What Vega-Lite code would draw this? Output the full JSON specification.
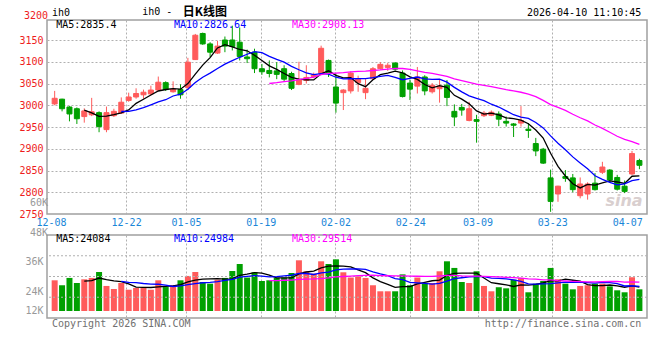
{
 "$schema": "https://vega.github.io/schema/vega-lite/v6.json",
 "padding": {"left": 18, "top": 5, "right": 5, "bottom": 5},
 "background": "white",
 "config": {
   "view": {"stroke": "#a0a0a0", "strokeWidth": 1.5},
   "font": "DejaVu Sans Mono",
   "text": {"font": "DejaVu Sans Mono", "fontSize": 10},
   "axis": {"labelOverlap": false, "labelFlush": false, "format": "d"}
 },
 "datasets": {"k": [
  {"i":0,"o":3003,"h":3033,"l":3000,"c":3016,"v":31000},
  {"i":1,"o":3014,"h":3015,"l":2986,"c":2992,"v":26000},
  {"i":2,"o":2996,"h":2998,"l":2963,"c":2980,"v":33400},
  {"i":3,"o":2992,"h":2995,"l":2957,"c":2969,"v":28300},
  {"i":4,"o":2974,"h":2993,"l":2960,"c":2987,"v":32000},
  {"i":5,"o":2978,"h":3017,"l":2975,"c":2985,"v":33400},
  {"i":6,"o":2983,"h":2986,"l":2938,"c":2951,"v":39400},
  {"i":7,"o":2944,"h":2997,"l":2938,"c":2983,"v":25300},
  {"i":8,"o":2976,"h":2992,"l":2973,"c":2986,"v":22200},
  {"i":9,"o":2982,"h":3018,"l":2980,"c":3007,"v":28300},
  {"i":10,"o":3011,"h":3029,"l":3008,"c":3019,"v":21500},
  {"i":11,"o":3019,"h":3039,"l":3015,"c":3027,"v":23300},
  {"i":12,"o":3024,"h":3036,"l":3015,"c":3030,"v":24200},
  {"i":13,"o":3026,"h":3045,"l":3023,"c":3035,"v":21500},
  {"i":14,"o":3035,"h":3066,"l":3033,"c":3053,"v":31000},
  {"i":15,"o":3052,"h":3055,"l":3033,"c":3036,"v":24200},
  {"i":16,"o":3031,"h":3055,"l":3029,"c":3037,"v":26000},
  {"i":17,"o":3036,"h":3048,"l":3015,"c":3024,"v":31000},
  {"i":18,"o":3041,"h":3109,"l":3035,"c":3099,"v":35400},
  {"i":19,"o":3105,"h":3164,"l":3104,"c":3161,"v":39400},
  {"i":20,"o":3165,"h":3167,"l":3139,"c":3141,"v":29300},
  {"i":21,"o":3141,"h":3145,"l":3111,"c":3122,"v":27600},
  {"i":22,"o":3120,"h":3148,"l":3118,"c":3136,"v":31600},
  {"i":23,"o":3150,"h":3158,"l":3122,"c":3136,"v":33400},
  {"i":24,"o":3150,"h":3183,"l":3126,"c":3135,"v":40400},
  {"i":25,"o":3145,"h":3179,"l":3103,"c":3112,"v":47500},
  {"i":26,"o":3111,"h":3128,"l":3097,"c":3107,"v":33800},
  {"i":27,"o":3122,"h":3130,"l":3074,"c":3084,"v":39100},
  {"i":28,"o":3084,"h":3095,"l":3070,"c":3077,"v":30300},
  {"i":29,"o":3080,"h":3103,"l":3064,"c":3073,"v":31000},
  {"i":30,"o":3079,"h":3099,"l":3060,"c":3071,"v":33400},
  {"i":31,"o":3084,"h":3092,"l":3054,"c":3060,"v":33800},
  {"i":32,"o":3073,"h":3077,"l":3035,"c":3039,"v":38400},
  {"i":33,"o":3048,"h":3100,"l":3046,"c":3058,"v":51200},
  {"i":34,"o":3057,"h":3092,"l":3050,"c":3064,"v":40100},
  {"i":35,"o":3066,"h":3075,"l":3062,"c":3070,"v":37700},
  {"i":36,"o":3073,"h":3137,"l":3070,"c":3131,"v":50200},
  {"i":37,"o":3103,"h":3105,"l":3065,"c":3073,"v":47500},
  {"i":38,"o":3042,"h":3073,"l":2983,"c":3005,"v":52200},
  {"i":39,"o":3029,"h":3037,"l":2989,"c":3035,"v":39100},
  {"i":40,"o":3033,"h":3078,"l":3027,"c":3074,"v":33800},
  {"i":41,"o":3052,"h":3068,"l":3031,"c":3061,"v":35000},
  {"i":42,"o":3029,"h":3060,"l":3014,"c":3039,"v":33400},
  {"i":43,"o":3061,"h":3088,"l":3058,"c":3084,"v":26000},
  {"i":44,"o":3084,"h":3099,"l":3082,"c":3094,"v":19900},
  {"i":45,"o":3087,"h":3097,"l":3079,"c":3092,"v":19900},
  {"i":46,"o":3097,"h":3099,"l":3080,"c":3083,"v":19900},
  {"i":47,"o":3074,"h":3080,"l":3018,"c":3020,"v":37000},
  {"i":48,"o":3051,"h":3059,"l":3012,"c":3037,"v":26000},
  {"i":49,"o":3044,"h":3088,"l":3027,"c":3065,"v":33800},
  {"i":50,"o":3065,"h":3069,"l":3023,"c":3033,"v":27600},
  {"i":51,"o":3031,"h":3051,"l":3027,"c":3046,"v":28300},
  {"i":52,"o":3038,"h":3058,"l":3006,"c":3044,"v":40100},
  {"i":53,"o":3046,"h":3058,"l":2998,"c":3018,"v":50200},
  {"i":54,"o":2986,"h":3002,"l":2952,"c":2973,"v":43500},
  {"i":55,"o":2995,"h":3003,"l":2976,"c":2989,"v":29300},
  {"i":56,"o":2965,"h":3008,"l":2963,"c":2992,"v":28300},
  {"i":57,"o":2967,"h":2978,"l":2914,"c":2963,"v":40100},
  {"i":58,"o":2976,"h":2987,"l":2973,"c":2982,"v":25300},
  {"i":59,"o":2977,"h":2988,"l":2975,"c":2984,"v":19900},
  {"i":60,"o":2980,"h":2986,"l":2952,"c":2968,"v":24000},
  {"i":61,"o":2963,"h":2974,"l":2951,"c":2959,"v":22900},
  {"i":62,"o":2957,"h":2959,"l":2927,"c":2954,"v":31600},
  {"i":63,"o":2959,"h":2998,"l":2951,"c":2965,"v":33400},
  {"i":64,"o":2945,"h":2959,"l":2925,"c":2942,"v":18900},
  {"i":65,"o":2912,"h":2925,"l":2883,"c":2895,"v":27600},
  {"i":66,"o":2899,"h":2902,"l":2865,"c":2867,"v":30300},
  {"i":67,"o":2833,"h":2852,"l":2755,"c":2779,"v":43500},
  {"i":68,"o":2796,"h":2815,"l":2778,"c":2814,"v":32000},
  {"i":69,"o":2836,"h":2851,"l":2824,"c":2832,"v":27600},
  {"i":70,"o":2833,"h":2842,"l":2800,"c":2806,"v":21900},
  {"i":71,"o":2792,"h":2834,"l":2786,"c":2819,"v":25300},
  {"i":72,"o":2796,"h":2823,"l":2783,"c":2819,"v":26000},
  {"i":73,"o":2821,"h":2844,"l":2804,"c":2806,"v":27600},
  {"i":74,"o":2846,"h":2870,"l":2842,"c":2858,"v":27600},
  {"i":75,"o":2851,"h":2853,"l":2823,"c":2828,"v":24900},
  {"i":76,"o":2834,"h":2840,"l":2804,"c":2807,"v":20900},
  {"i":77,"o":2814,"h":2827,"l":2798,"c":2802,"v":18900},
  {"i":78,"o":2842,"h":2895,"l":2840,"c":2889,"v":34100},
  {"i":79,"o":2873,"h":2877,"l":2853,"c":2862,"v":21900}
 ]},
 "spacing": 21,
 "bounds": "flush",
 "vconcat": [
  {
   "width": 600,
   "height": 194,
   "data": {"name": "k"},
   "layer": [
    {
     "mark": {"type": "rule", "strokeWidth": 1},
     "encoding": {
      "x": {"field": "i", "type": "quantitative",
            "scale": {"domain": [-0.36, 79.35], "nice": false, "zero": false},
            "axis": {"title": null, "tickCount": 30,
                     "values": [-0.49, 9.65, 17.75, 27.85, 37.94, 48.04, 57.13, 67.22, 77.35],
                     "labelExpr": "datum.value < 0 ? '12-08' : datum.value < 10 ? '12-22' : datum.value < 18 ? '01-05' : datum.value < 28 ? '01-19' : datum.value < 38 ? '02-02' : datum.value < 49 ? '02-24' : datum.value < 58 ? '03-09' : datum.value < 68 ? '03-23' : '04-07'",
                     "labelColor": "#1a86d8", "labelFontSize": 10, "labelFont": "DejaVu Sans Mono",
                     "labelPadding": 3, "labelFlush": false, "labelOverlap": false,
                     "ticks": false, "domain": false, "grid": true, "gridColor": "#b0b0b0", "gridDash": [2, 2],
                     "gridOpacity": {"condition": {"test": "datum.value < 0 || datum.value > 70", "value": 0}, "value": 1}}},
      "y": {"field": "l", "type": "quantitative",
            "scale": {"domain": [2750, 3196], "nice": false, "zero": false},
            "axis": {"title": null, "tickCount": 30,
                     "values": [2750, 2800, 2850, 2900, 2950, 3000, 3050, 3100, 3150],
                     "format": "d",
                     "labelColor": "#ee1c1c", "labelFontSize": 10, "labelFont": "DejaVu Sans Mono",
                     "labelPadding": 4, "labelFlush": false, "labelOverlap": false,
                     "ticks": false, "domain": false, "grid": true, "gridColor": "#b0b0b0", "gridDash": [2, 2],
                     "gridOpacity": {"condition": {"test": "datum.value < 2760", "value": 0}, "value": 1}}},
      "y2": {"field": "h"},
      "color": {"condition": {"test": "datum.c >= datum.o", "value": "#ff5b5b"}, "value": "#00a000"}
     }
    },
    {
     "mark": {"type": "bar", "width": 5, "strokeWidth": 1},
     "encoding": {
      "x": {"field": "i", "type": "quantitative"},
      "y": {"field": "o", "type": "quantitative"},
      "y2": {"field": "c"},
      "color": {"condition": {"test": "datum.c >= datum.o", "value": "#ff5b5b"}, "value": "#00a000"},
      "stroke": {"condition": {"test": "datum.c >= datum.o", "value": "#ff5b5b"}, "value": "#00a000"}
     }
    },
    {
     "transform": [
      {"window": [{"op": "mean", "field": "c", "as": "m"}], "frame": [-4, 0], "sort": [{"field": "i"}]},
      {"filter": "datum.i >= 4"}
     ],
     "mark": {"type": "line", "color": "#000000", "strokeWidth": 1.3},
     "encoding": {"x": {"field": "i", "type": "quantitative"}, "y": {"field": "m", "type": "quantitative"}}
    },
    {
     "transform": [
      {"window": [{"op": "mean", "field": "c", "as": "m"}], "frame": [-9, 0], "sort": [{"field": "i"}]},
      {"filter": "datum.i >= 9"}
     ],
     "mark": {"type": "line", "color": "#0000ff", "strokeWidth": 1.3},
     "encoding": {"x": {"field": "i", "type": "quantitative"}, "y": {"field": "m", "type": "quantitative"}}
    },
    {
     "transform": [
      {"window": [{"op": "mean", "field": "c", "as": "m"}], "frame": [-29, 0], "sort": [{"field": "i"}]},
      {"filter": "datum.i >= 29"}
     ],
     "mark": {"type": "line", "color": "#ff00ff", "strokeWidth": 1.3},
     "encoding": {"x": {"field": "i", "type": "quantitative"}, "y": {"field": "m", "type": "quantitative"}}
    },
    {
     "data": {"values": [{}]},
     "mark": {"type": "text", "text": "sina", "align": "right", "baseline": "middle", "fontSize": 16, "fontStyle": "italic", "fontWeight": "bold", "font": "DejaVu Sans", "color": "#d9cfcf"},
     "encoding": {"x": {"datum": 79.43}, "y": {"datum": 2779}}
    },
    {
     "data": {"values": [{}]},
     "mark": {"type": "text", "text": "3200", "align": "right", "baseline": "middle", "color": "#ee1c1c"},
     "encoding": {"x": {"datum": -0.891}, "y": {"datum": 3205}}
    },
    {
     "data": {"values": [{}]},
     "mark": {"type": "text", "text": "ih0", "align": "left", "baseline": "middle", "color": "#000000"},
     "encoding": {"x": {"datum": -0.36}, "y": {"datum": 3212}}
    },
    {
     "data": {"values": [{}]},
     "mark": {"type": "text", "text": "ih0 -", "align": "left", "baseline": "middle", "color": "#000000"},
     "encoding": {"x": {"datum": 11.82}, "y": {"datum": 3214}}
    },
    {
     "data": {"values": [{}]},
     "mark": {"type": "text", "text": "日K线图", "align": "left", "baseline": "middle", "fontSize": 12, "font": "Noto Sans CJK SC", "fontWeight": "bold", "color": "#000000"},
     "encoding": {"x": {"datum": 17.31}, "y": {"datum": 3214}}
    },
    {
     "data": {"values": [{}]},
     "mark": {"type": "text", "text": "2026-04-10 11:10:45", "align": "right", "baseline": "middle", "color": "#000000"},
     "encoding": {"x": {"datum": 79.26}, "y": {"datum": 3213}}
    },
    {
     "data": {"values": [{}]},
     "mark": {"type": "text", "text": "MA5:2835.4", "align": "left", "baseline": "middle", "color": "#000000"},
     "encoding": {"x": {"datum": 0.21}, "y": {"datum": 3185}}
    },
    {
     "data": {"values": [{}]},
     "mark": {"type": "text", "text": "MA10:2826.64", "align": "left", "baseline": "middle", "color": "#0000ff"},
     "encoding": {"x": {"datum": 16.11}, "y": {"datum": 3185}}
    },
    {
     "data": {"values": [{}]},
     "mark": {"type": "text", "text": "MA30:2908.13", "align": "left", "baseline": "middle", "color": "#ff00ff"},
     "encoding": {"x": {"datum": 32.06}, "y": {"datum": 3185}}
    }
   ]
  },
  {
   "width": 600,
   "height": 83,
   "data": {"name": "k"},
   "layer": [
    {
     "mark": {"type": "bar", "width": 6},
     "encoding": {
      "x": {"field": "i", "type": "quantitative",
            "scale": {"domain": [-0.36, 79.35], "nice": false, "zero": false},
            "axis": {"title": null, "tickCount": 30,
                     "values": [9.65, 17.75, 27.85, 37.94, 48.04, 57.13, 67.22],
                     "labels": false, "ticks": false, "domain": false,
                     "grid": true, "gridColor": "#b0b0b0", "gridDash": [2, 2]}},
      "y": {"field": "v", "type": "quantitative",
            "scale": {"domain": [-7070, 76760], "nice": false, "zero": false},
            "axis": {"title": null, "tickCount": 30,
                     "values": [505, 19998, 50298],
                     "labelExpr": "datum.value < 5000 ? '12K' : datum.value < 30000 ? '24K' : '36K'",
                     "labelColor": "#999999", "labelFontSize": 10, "labelFont": "DejaVu Sans Mono",
                     "labelPadding": 4, "labelFlush": false, "labelOverlap": false,
                     "ticks": false, "domain": false, "grid": false}},
      "y2": {"datum": 0},
      "color": {"condition": {"test": "datum.c >= datum.o", "value": "#ff5b5b"}, "value": "#00a000"}
     }
    },
    {
     "data": {"values": [{}]},
     "mark": {"type": "rule", "strokeDash": [2, 2], "color": "#b0b0b0", "strokeWidth": 1},
     "encoding": {"y": {"datum": 55802}}
    },
    {
     "data": {"values": [{}]},
     "mark": {"type": "rule", "strokeDash": [2, 2], "color": "#b0b0b0", "strokeWidth": 1},
     "encoding": {"y": {"datum": 34845}}
    },
    {
     "data": {"values": [{}]},
     "mark": {"type": "rule", "strokeDash": [2, 2], "color": "#b0b0b0", "strokeWidth": 1},
     "encoding": {"y": {"datum": 13888}}
    },
    {
     "transform": [
      {"window": [{"op": "mean", "field": "v", "as": "m"}], "frame": [-4, 0], "sort": [{"field": "i"}]},
      {"filter": "datum.i >= 4"}
     ],
     "mark": {"type": "line", "color": "#000000", "strokeWidth": 1.3},
     "encoding": {"x": {"field": "i", "type": "quantitative"}, "y": {"field": "m", "type": "quantitative"}}
    },
    {
     "transform": [
      {"window": [{"op": "mean", "field": "v", "as": "m"}], "frame": [-9, 0], "sort": [{"field": "i"}]},
      {"filter": "datum.i >= 9"}
     ],
     "mark": {"type": "line", "color": "#0000ff", "strokeWidth": 1.3},
     "encoding": {"x": {"field": "i", "type": "quantitative"}, "y": {"field": "m", "type": "quantitative"}}
    },
    {
     "transform": [
      {"window": [{"op": "mean", "field": "v", "as": "m"}], "frame": [-29, 0], "sort": [{"field": "i"}]},
      {"filter": "datum.i >= 29"}
     ],
     "mark": {"type": "line", "color": "#ff00ff", "strokeWidth": 1.3},
     "encoding": {"x": {"field": "i", "type": "quantitative"}, "y": {"field": "m", "type": "quantitative"}}
    },
    {
     "data": {"values": [{}]},
     "mark": {"type": "text", "text": "48K", "align": "right", "baseline": "middle", "color": "#999999"},
     "encoding": {"x": {"datum": -0.891}, "y": {"datum": 79285}}
    },
    {
     "data": {"values": [{}]},
     "mark": {"type": "text", "text": "60K", "align": "right", "baseline": "middle", "color": "#999999"},
     "encoding": {"x": {"datum": -0.891}, "y": {"datum": 109080}}
    },
    {
     "data": {"values": [{}]},
     "mark": {"type": "text", "text": "MA5:24084", "align": "left", "baseline": "middle", "color": "#000000"},
     "encoding": {"x": {"datum": 0.21}, "y": {"datum": 72922}}
    },
    {
     "data": {"values": [{}]},
     "mark": {"type": "text", "text": "MA10:24984", "align": "left", "baseline": "middle", "color": "#0000ff"},
     "encoding": {"x": {"datum": 16.11}, "y": {"datum": 72922}}
    },
    {
     "data": {"values": [{}]},
     "mark": {"type": "text", "text": "MA30:29514", "align": "left", "baseline": "middle", "color": "#ff00ff"},
     "encoding": {"x": {"datum": 32.06}, "y": {"datum": 72922}}
    },
    {
     "data": {"values": [{}]},
     "mark": {"type": "text", "text": "Copyright 2026 SINA.COM", "align": "left", "baseline": "middle", "color": "#707070"},
     "encoding": {"x": {"datum": -0.36}, "y": {"datum": -12625}}
    },
    {
     "data": {"values": [{}]},
     "mark": {"type": "text", "text": "http://finance.sina.com.cn", "align": "right", "baseline": "middle", "color": "#707070"},
     "encoding": {"x": {"datum": 79.26}, "y": {"datum": -13130}}
    }
   ]
  }
 ]
}
